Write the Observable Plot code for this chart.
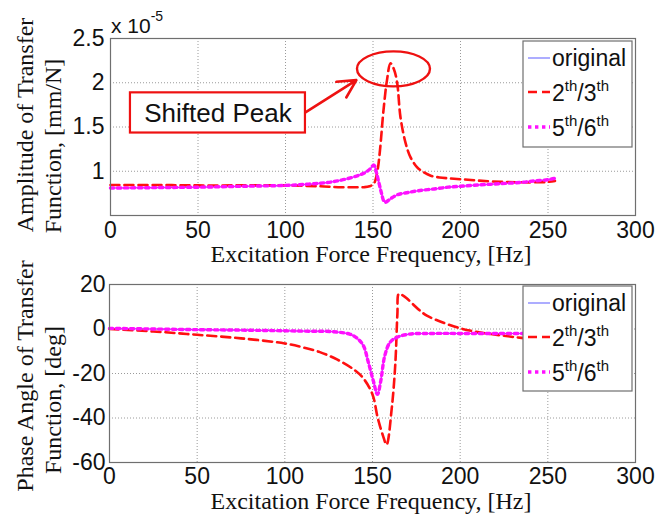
<!DOCTYPE html>
<html><head><meta charset="utf-8">
<script src="https://cdn.jsdelivr.net/npm/d3@7"></script>
<script src="https://cdn.jsdelivr.net/npm/@observablehq/plot@0.6"></script>
<style>
body{margin:0;background:#fff;}
#chart{position:relative;width:658px;height:515px;overflow:hidden;background:#fff;}
#chart svg{position:absolute;left:0;}
</style></head>
<body><div id="chart"></div>
<script>
// ---------- data (amplitude in units of 1e-5 mm/N, phase in deg) ----------
const xTicks = [0, 50, 100, 150, 200, 250, 300];
const ampTicks = [1, 1.5, 2, 2.5];
const phaseTicks = [-60, -40, -20, 0, 20];
const seriesNames = ["original", "2th/3th", "5th/6th"];

const ampOrigF = [0, 25, 50, 75, 100, 110, 120, 126, 132, 138, 142, 145, 148, 150.5, 152, 153.5, 155, 156, 157, 160, 164, 170, 176, 185, 193, 200, 210, 223, 235, 242, 250, 254];
const ampOrigV = [0.81, 0.815, 0.82, 0.83, 0.84, 0.85, 0.865, 0.878, 0.9, 0.93, 0.955, 0.98, 1.02, 1.07, 0.98, 0.86, 0.74, 0.67, 0.65, 0.69, 0.735, 0.76, 0.78, 0.80, 0.82, 0.83, 0.845, 0.86, 0.875, 0.89, 0.905, 0.92];

const amp23F = [0, 25, 50, 75, 100, 120, 130, 140, 145, 148, 150.5, 152.5, 154, 156, 158, 160, 162, 163.8, 165.7, 168.6, 171.4, 175, 178, 183, 188, 193, 200, 210, 223, 235, 242, 250, 254];
const amp23V = [0.845, 0.845, 0.84, 0.84, 0.84, 0.83, 0.82, 0.82, 0.82, 0.83, 0.86, 1.0, 1.24, 1.69, 2.03, 2.22, 2.15, 2.0, 1.61, 1.32, 1.16, 1.05, 1.0, 0.95, 0.93, 0.92, 0.91, 0.895, 0.88, 0.875, 0.875, 0.88, 0.89];

const amp56F = [0, 25, 50, 75, 100, 110, 120, 126, 132, 138, 142, 145, 148, 150.5, 152, 153.5, 155, 156, 157, 160, 164, 170, 176, 185, 193, 200, 210, 223, 235, 242, 250, 254];
const amp56V = [0.81, 0.815, 0.82, 0.83, 0.84, 0.85, 0.865, 0.878, 0.9, 0.93, 0.955, 0.98, 1.02, 1.07, 0.98, 0.86, 0.74, 0.67, 0.65, 0.69, 0.735, 0.76, 0.78, 0.80, 0.82, 0.83, 0.845, 0.86, 0.875, 0.89, 0.905, 0.92];

const phOrigF = [0, 25, 50, 75, 100, 115, 125.7, 137, 141, 144.8, 147.4, 150.5, 152.8, 154.7, 157, 160, 163.8, 171, 185, 200, 220, 240, 255];
const phOrigV = [0.3, 0, -0.3, -0.5, -0.8, -1, -1.1, -2.3, -4, -7.5, -14.3, -23.4, -29.4, -23.4, -12, -6, -3.8, -2.3, -2, -2, -2, -2, -2];

const ph23F = [0, 25, 50, 75, 100, 110, 120, 130, 140, 145, 150, 153, 156, 158, 161, 163, 164.2, 165, 167, 169.5, 173, 177, 181, 188.6, 200, 211, 224.6, 235, 245, 255];
const ph23V = [0, -1.1, -2.6, -4.2, -6.5, -8.2, -10.4, -13.8, -18.6, -22.4, -29.4, -40, -48, -52, -35.5, -15.8, 6.8, 15.8, 15.2, 13.8, 11.2, 8.3, 6.0, 3.4, 0.3, -1.5, -3, -4, -4.5, -5];

const ph56F = [0, 25, 50, 75, 100, 115, 125.7, 137, 141, 144.8, 147.4, 150.5, 152.8, 154.7, 157, 160, 163.8, 171, 185, 200, 220, 240, 255];
const ph56V = [0.3, 0, -0.3, -0.5, -0.8, -1, -1.1, -2.3, -4, -7.5, -14.3, -23.4, -29.4, -23.4, -12, -6, -3.8, -2.3, -2, -2, -2, -2, -2];

// annotation (data coordinates of the top panel)
const peakBox = {x1: 11.4, x2: 111.4, y1: 1.432, y2: 1.886, tx: 61.4, ty: 1.655, label: "Shifted Peak"};
const peakArrow = {x1: 111.4, y1: 1.665, x2: 140.5, y2: 2.03};
const peakCircle = {x: 161.7, y: 2.157};

// ---------- helpers ----------
const rows = (fs, vs) => fs.map((f, i) => ({f, v: vs[i]}));
const styles = [
  {stroke: "#6a6aff", strokeWidth: 1.1},
  {stroke: "#ff1010", strokeWidth: 2.6, strokeDasharray: "9,5"},
  {stroke: "#ff10ff", strokeWidth: 3.4, strokeDasharray: "3.4,3.6"}
];
const ellipseSymbol = {
  draw(ctx) {
    const rx = 36.5, ry = 17.5, k = 0.5523;
    ctx.moveTo(rx, 0);
    ctx.bezierCurveTo(rx, ry * k, rx * k, ry, 0, ry);
    ctx.bezierCurveTo(-rx * k, ry, -rx, ry * k, -rx, 0);
    ctx.bezierCurveTo(-rx, -ry * k, -rx * k, -ry, 0, -ry);
    ctx.bezierCurveTo(rx * k, -ry, rx, -ry * k, rx, 0);
    ctx.closePath();
  }
};

function panel(o) {
  const marks = [
    Plot.gridX([50, 100, 150, 200, 250], {stroke: "#9a9a9a", strokeOpacity: 1, strokeDasharray: "1,2", strokeWidth: 1}),
    Plot.gridY(o.grid, {stroke: "#9a9a9a", strokeOpacity: 1, strokeDasharray: "1,2", strokeWidth: 1}),
    Plot.axisX({ticks: xTicks, tickSize: 0, tickPadding: o.padX, tickFormat: d => String(d), label: null, fontSize: 23}),
    Plot.axisY({ticks: o.yTicks, tickSize: 0, tickPadding: o.padY, tickFormat: d => String(d), label: null, fontSize: 23}),
    ...(o.before || []),
    ...o.series.map((s, i) => Plot.line(s, {x: "f", y: "v", curve: "catmull-rom", ...styles[i]})),
    ...(o.after || []),
    Plot.frame({stroke: "#6f6f6f", strokeWidth: 1.2})
  ];
  const svg = Plot.plot({
    width: 658, height: o.height,
    marginLeft: o.ml, marginRight: 23, marginTop: o.mt, marginBottom: o.mb,
    style: {fontFamily: "'Liberation Sans', Arial, sans-serif", fontSize: "23px", color: "#111", background: "transparent", overflow: "visible"},
    x: {domain: [0, 300]},
    y: {domain: o.yDomain},
    marks
  });
  svg.style.top = o.top + "px";
  return svg;
}

const chart = document.getElementById("chart");

chart.appendChild(panel({
  top: 0, height: 260, ml: 110, mt: 38, mb: 45, padX: 6, padY: 6,
  yDomain: [0.5, 2.5], yTicks: ampTicks, grid: [1, 1.5, 2],
  series: [rows(ampOrigF, ampOrigV), rows(amp23F, amp23V), rows(amp56F, amp56V)],
  before: [
    Plot.rect([peakBox], {x1: "x1", x2: "x2", y1: "y1", y2: "y2", fill: "white", stroke: "#ee1111", strokeWidth: 2.2}),
    Plot.text([peakBox], {x: "tx", y: "ty", text: "label", fontSize: 26, fill: "#111"}),
    Plot.arrow([peakArrow], {x1: "x1", y1: "y1", x2: "x2", y2: "y2", stroke: "#ee1111", strokeWidth: 2.6, headLength: 13, headAngle: 55})
  ],
  after: [
    Plot.dot([peakCircle], {x: "x", y: "y", r: 20, symbol: ellipseSymbol, stroke: "#ee1111", strokeWidth: 2.4, fill: "none"})
  ]
}));

chart.appendChild(panel({
  top: 260, height: 255, ml: 109, mt: 24, mb: 53, padX: 5, padY: 4,
  yDomain: [-60, 20], yTicks: phaseTicks, grid: [-40, -20, 0],
  series: [rows(phOrigF, phOrigV), rows(ph23F, ph23V), rows(ph56F, ph56V)]
}));

// ---------- overlay: axis titles, exponent, legends ----------
const ov = d3.select(chart).append("svg")
  .attr("width", 658).attr("height", 515).style("top", "0px")
  .style("font-family", "'Liberation Sans', Arial, sans-serif");

const serif = "'Liberation Serif', 'Times New Roman', serif";
function ylab(x, y, t) {
  ov.append("text").attr("transform", `translate(${x},${y}) rotate(-90)`)
    .attr("text-anchor", "middle").attr("dominant-baseline", "central")
    .attr("font-family", serif).attr("font-size", 24).attr("fill", "#111").text(t);
}
ylab(25, 125, "Amplitude of Transfer");
ylab(53, 146, "Function, [mm/N]");
ylab(25, 376, "Phase Angle of Transfer");
ylab(53, 400, "Function, [deg]");
function xlab(y) {
  ov.append("text").attr("x", 371).attr("y", y).attr("text-anchor", "middle")
    .attr("font-family", serif).attr("font-size", 24).attr("fill", "#111")
    .text("Excitation Force Frequency, [Hz]");
}
xlab(262);
xlab(509);

const ex = ov.append("text").attr("x", 111).attr("y", 33).attr("font-size", 21).attr("fill", "#111");
ex.append("tspan").text("x 10");
ex.append("tspan").attr("dy", -12).attr("font-size", 14).text("-5");

function legend(left, top, h) {
  const g = ov.append("g").attr("transform", `translate(${left},${top})`);
  g.append("rect").attr("width", 109).attr("height", h).attr("fill", "white").attr("stroke", "#6f6f6f").attr("stroke-width", 1.2);
  const lineY = [17, 51, 86], baseY = [25, 60, 95];
  seriesNames.forEach((name, i) => {
    const s = styles[i];
    g.append("line").attr("x1", 5).attr("x2", 27).attr("y1", lineY[i]).attr("y2", lineY[i])
      .attr("stroke", s.stroke).attr("stroke-width", s.strokeWidth)
      .attr("stroke-dasharray", s.strokeDasharray || null);
    const t = g.append("text").attr("x", 29).attr("y", baseY[i]).attr("font-size", 23).attr("fill", "#111");
    const m = name.match(/^(\d)th\/(\d)th$/);
    if (m) {
      t.append("tspan").text(m[1]);
      t.append("tspan").attr("dy", -10).attr("font-size", 15).text("th");
      t.append("tspan").attr("dy", 10).text("/" + m[2]);
      t.append("tspan").attr("dy", -10).attr("font-size", 15).text("th");
    } else {
      t.text(name);
    }
  });
}
legend(523, 41, 106);
legend(523, 286, 105);
</script>
</body></html>
